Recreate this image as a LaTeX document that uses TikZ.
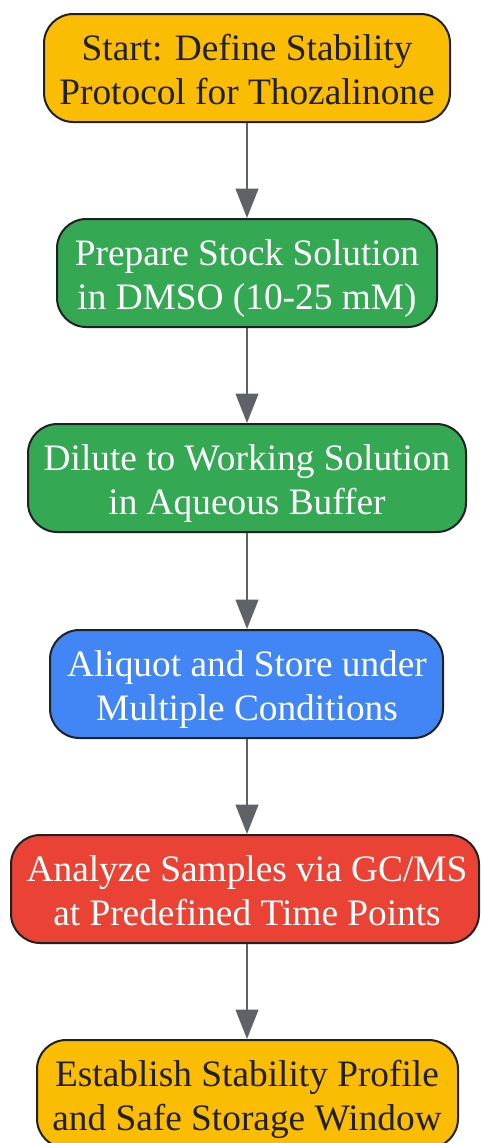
\documentclass[tikz,border=0pt]{standalone}
\usepackage{fontspec}
\setmainfont{Liberation Serif}
\usetikzlibrary{arrows.meta}
\definecolor{gyellow}{HTML}{FBBC04}
\definecolor{ggreen}{HTML}{34A853}
\definecolor{gblue}{HTML}{4285F4}
\definecolor{gred}{HTML}{EA4335}
\definecolor{gdark}{HTML}{202124}
\definecolor{ggray}{HTML}{5F6368}
\newcommand{\twolines}[2]{\begin{tabular}[t]{@{}c@{}}#1\\#2\end{tabular}}
\tikzset{
  box/.style={draw=gdark, line width=1.5pt, rounded corners=22pt, inner sep=0pt, minimum height=108*0.75pt},
  lbl/.style={anchor=base, font=\fontsize{28}{33}\selectfont, inner sep=0pt},
  darktext/.style={lbl, text=gdark},
  lighttext/.style={lbl, text=white},
  flow/.style={draw=ggray, line width=1.5pt, -{Triangle[length=22pt,width=17pt]}}
}
\begin{document}
\begin{tikzpicture}[x=0.75pt,y=-0.75pt]
\useasboundingbox (0,0) rectangle (480,1143);
\node[box, fill=gyellow, minimum width=406*0.75pt] (n1) at (247,68) {};
\node[darktext] (t1) at (247,60) {\twolines{Start: Define Stability}{Protocol for Thozalinone}};
\node[box, fill=ggreen, minimum width=380*0.75pt] (n2) at (247,273) {};
\node[lighttext] (t2) at (247,265) {\twolines{Prepare Stock Solution}{in DMSO (10-25 mM)}};
\node[box, fill=ggreen, minimum width=438*0.75pt] (n3) at (247,478) {};
\node[lighttext] (t3) at (247,470) {\twolines{Dilute to Working Solution}{in Aqueous Buffer}};
\node[box, fill=gblue, minimum width=393*0.75pt] (n4) at (246.5,684) {};
\node[lighttext] (t4) at (247,676) {\twolines{Aliquot and Store under}{Multiple Conditions}};
\node[box, fill=gred, minimum width=468*0.75pt] (n5) at (245,889) {};
\node[lighttext] (t5) at (247,881) {\twolines{Analyze Samples via GC/MS}{at Predefined Time Points}};
\node[box, fill=gyellow, minimum width=421*0.75pt] (n6) at (247.5,1094) {};
\node[darktext] (t6) at (247,1086) {\twolines{Establish Stability Profile}{and Safe Storage Window}};
\draw[flow] (n1.south -| 247,0) -- (n2.north -| 247,0);
\draw[flow] (n2.south -| 247,0) -- (n3.north -| 247,0);
\draw[flow] (n3.south -| 247,0) -- (n4.north -| 247,0);
\draw[flow] (n4.south -| 247,0) -- (n5.north -| 247,0);
\draw[flow] (n5.south -| 247,0) -- (n6.north -| 247,0);
\end{tikzpicture}
\end{document}
